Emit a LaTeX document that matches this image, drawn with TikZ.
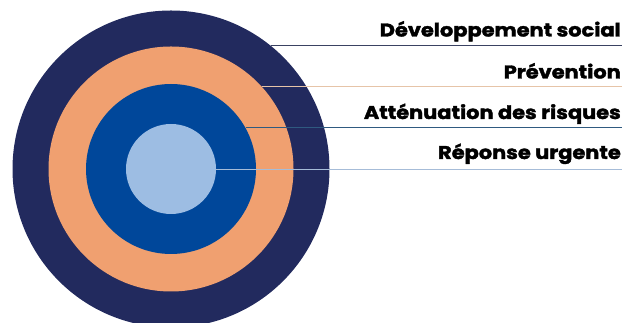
\documentclass[tikz,border=0pt]{standalone}
\usepackage{fontspec}
\setmainfont{Poppins}[BoldFeatures={FakeBold=1.8}]
\definecolor{navy}{HTML}{222A5E}
\definecolor{peach}{HTML}{F0A070}
\definecolor{royal}{HTML}{00479A}
\definecolor{sky}{HTML}{9DBDE3}
\definecolor{lnavy}{HTML}{3A4262}
\definecolor{lpeach}{HTML}{E6C4A8}
\definecolor{lroyal}{HTML}{2F5A80}
\definecolor{lsky}{HTML}{A6BCD8}
\tikzset{
  ring/.style={circle, draw=none, inner sep=0pt},
  lab/.style={anchor=base east, inner sep=0pt, xscale=1.13, transform shape, font=\fontsize{18.5}{22}\selectfont\bfseries, text=black},
  leader/.style={line width=0.9pt}
}
\begin{document}
\begin{tikzpicture}[x=1pt,y=1pt]
\useasboundingbox (0,0) rectangle (626,323);
\node[ring, fill=navy, minimum size=317pt] (c1) at (171,154) {};
\node[ring, fill=peach, minimum size=245pt] (c2) at (171,154) {};
\node[ring, fill=royal, minimum size=170pt] (c3) at (171,154) {};
\node[ring, fill=sky, minimum size=90pt] (c4) at (171,154) {};
\coordinate (endx) at (622,0);
\node[lab] (t1) at (621,286.5) {Développement social};
\node[lab] (t2) at (621,244.5) {Prévention};
\node[lab] (t3) at (621,204) {Atténuation des risques};
\node[lab] (t4) at (621,164) {Réponse urgente};
\draw[leader, lnavy] (c1.51.5) -- (c1.51.5 -| endx);
\draw[leader, lpeach] (c2.42.7) -- (c2.42.7 -| endx);
\draw[leader, lroyal] (c3.29.4) -- (c3.29.4 -| endx);
\draw[leader, lsky] (c4.0) -- (c4.0 -| endx);
\end{tikzpicture}
\end{document}
